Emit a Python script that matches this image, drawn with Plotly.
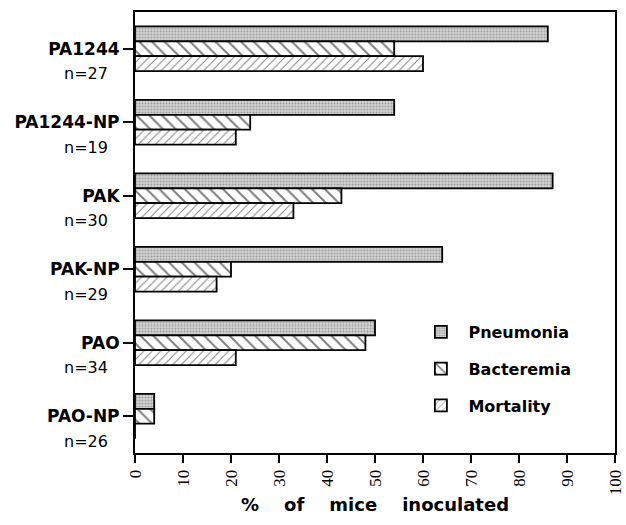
import plotly.graph_objects as go

strains = ["PA1244", "PA1244-NP", "PAK", "PAK-NP", "PAO", "PAO-NP"]
n_labels = ["n=27", "n=19", "n=30", "n=29", "n=34", "n=26"]
pneumonia = [86, 54, 87, 64, 50, 4]
bacteremia = [54, 24, 43, 20, 48, 4]
mortality = [60, 21, 33, 17, 21, 0]
x_ticks = [0, 10, 20, 30, 40, 50, 60, 70, 80, 90, 100]

series = [
    ("Pneumonia", pneumonia, dict(shape=".", bgcolor="#d2d2d2", fgcolor="#6a6a6a", size=3, solidity=0.35)),
    ("Bacteremia", bacteremia, dict(shape="\\", bgcolor="white", fgcolor="black", size=9, solidity=0.22)),
    ("Mortality", mortality, dict(shape="/", bgcolor="white", fgcolor="black", size=6, solidity=0.16)),
]

fig = go.Figure()
for name, vals, pat in series:
    fig.add_trace(go.Bar(
        y=strains, x=vals, orientation="h", name=name, legendgroup=name,
        marker=dict(color="white", pattern=pat, line=dict(color="black", width=1.8)),
    ))

for s, n in zip(strains, n_labels):
    fig.add_annotation(x=-0.052, xref="paper", y=s, yref="y", yshift=-25,
                       text=n, showarrow=False, xanchor="right",
                       font=dict(family="DejaVu Sans", size=16, color="black"))

fig.update_layout(
    width=626, height=525,
    margin=dict(l=135, r=11, t=12, b=72),
    paper_bgcolor="white", plot_bgcolor="white",
    barmode="group", bargap=0.39, bargroupgap=0,
    showlegend=True,
    legend=dict(x=0.58, y=0.313, xanchor="left", yanchor="top", traceorder="grouped",
                tracegroupgap=13, itemwidth=45, bgcolor="rgba(0,0,0,0)",
                font=dict(family="DejaVu Sans", size=16, color="black", weight="bold")),
    xaxis=dict(range=[0, 100], tickvals=x_ticks, ticks="outside", ticklen=8, tickwidth=2,
               tickcolor="black", tickangle=-90, showline=True, linecolor="black", linewidth=2,
               mirror=True, showgrid=False, zeroline=False, automargin=False,
               tickfont=dict(family="Liberation Serif", size=17, color="black"),
               title=dict(text="<b>%&nbsp;&nbsp;&nbsp; of&nbsp;&nbsp;&nbsp; mice&nbsp;&nbsp;&nbsp; inoculated</b>", standoff=4,
                          font=dict(family="DejaVu Sans", size=18, color="black"))),
    yaxis=dict(autorange="reversed", ticks="outside", ticklen=10, tickwidth=2, tickcolor="black",
               showline=True, linecolor="black", linewidth=2, mirror=True, showgrid=False,
               automargin=False,
               tickvals=strains, ticktext=["<b>%s</b>" % s for s in strains],
               tickfont=dict(family="DejaVu Sans", size=17, color="black")),
)

fig.write_html("out.html")
